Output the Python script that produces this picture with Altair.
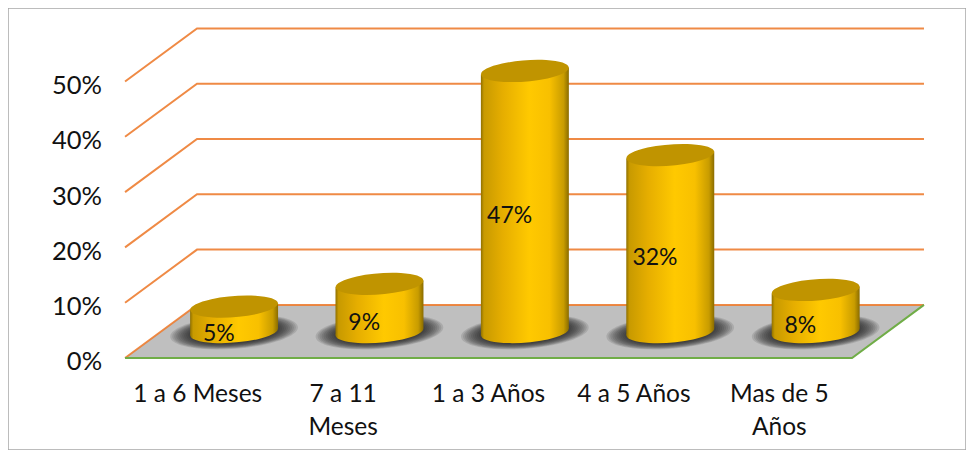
import math
import altair as alt
import pandas as pd

categories = ["1 a 6 Meses", "7 a 11 Meses", "1 a 3 Años", "4 a 5 Años", "Mas de 5 Años"]
axis_lines = [["1 a 6 Meses"], ["7 a 11", "Meses"], ["1 a 3 Años"], ["4 a 5 Años"], ["Mas de 5", "Años"]]
values = [4.6, 8.7, 47.2, 32.0, 7.6]
ticks = [0, 10, 20, 30, 40, 50]

# projection of the 3D box, in data units
DEPTH_X, DEPTH_V = 0.495, 9.6
BASE_V = 4.7
BAR_X = 0.75
HALF_W = 0.3025
TILT_V = 0.62

ORANGE = "#ed7d31"
GREEN = "#70ad47"
FONT = "Lato"


def ellipse(ratio, deg=4.5):
    a = math.radians(deg)
    cx, sy = math.cos(a), math.sin(a)
    return (f"M{-cx:.4f} {sy:.4f} A1 {ratio} {-deg} 1 1 {cx:.4f} {-sy:.4f} "
            f"A1 {ratio} {-deg} 1 1 {-cx:.4f} {sy:.4f} Z")


x_scale = alt.Scale(domain=[-0.805, 5.784], nice=False, zero=False)
y_scale = alt.Scale(domain=[-16.64, 63.29], nice=False, zero=False)
X = alt.X("x:Q", scale=x_scale, axis=None)
Y = alt.Y("y:Q", scale=y_scale, axis=None, stack=None)

gold = alt.Gradient(
    gradient="linear", x1=0, x2=1, y1=0, y2=0,
    stops=[
        alt.GradientStop(color="#8f7000", offset=0),
        alt.GradientStop(color="#c89a00", offset=0.035),
        alt.GradientStop(color="#e6ae00", offset=0.25),
        alt.GradientStop(color="#ffc900", offset=0.55),
        alt.GradientStop(color="#f8c000", offset=0.78),
        alt.GradientStop(color="#c89c00", offset=0.94),
        alt.GradientStop(color="#8a6c00", offset=1),
    ],
)

floor_df = pd.DataFrame({
    "x": [0, DEPTH_X, 5, 5 + DEPTH_X],
    "y": [0, DEPTH_V, DEPTH_V, DEPTH_V],
    "y0": [0, 0, 0, DEPTH_V],
})
floor = alt.Chart(floor_df).mark_area(color="#bfbfbf").encode(X, Y, y2="y0:Q")

# axis labels
x_label_rows = []
for i, lines in enumerate(axis_lines):
    for j, line in enumerate(lines):
        x_label_rows.append({"x": i + 0.5, "y": -6.7 - 5.97 * j, "label": line})
x_labels = alt.Chart(pd.DataFrame(x_label_rows)).mark_text(
    font=FONT, fontSize=24.5, color="#111111", align="center", baseline="middle",
).encode(X, Y, text="label:N")

y_labels = alt.Chart(pd.DataFrame({
    "x": [-0.158] * len(ticks),
    "y": [t - 0.8 for t in ticks],
    "label": [f"{t}%" for t in ticks],
})).mark_text(
    font=FONT, fontSize=25.5, color="#111111", align="right", baseline="middle",
).encode(X, Y, text="label:N")

# gridlines: front diagonal + back wall
grid_rows = []
for t in ticks:
    grid_rows += [
        {"t": t, "o": 0, "x": 0, "y": t},
        {"t": t, "o": 1, "x": DEPTH_X, "y": t + DEPTH_V},
        {"t": t, "o": 2, "x": 5 + DEPTH_X, "y": t + DEPTH_V},
    ]
grid = alt.Chart(pd.DataFrame(grid_rows)).mark_line(
    color=ORANGE, strokeWidth=2, opacity=0.9
).encode(X, Y, detail="t:N", order="o:Q")

edge_df = pd.DataFrame({"x": [0, 5, 5 + DEPTH_X], "y": [0, 0, DEPTH_V]})
edge = alt.Chart(edge_df).mark_line(color=GREEN, strokeWidth=2).encode(X, Y)

layers = [floor, grid, edge, x_labels, y_labels]

centers = pd.DataFrame({
    "x": [i + BAR_X for i in range(5)],
    "cat": categories,
    "top": [BASE_V + v for v in values],
    "base": [BASE_V] * 5,
})

# blurred shadows on the floor, built from stacked translucent ellipses
for rx in range(64, 42, -2):
    layers.append(
        alt.Chart(centers).mark_point(
            shape=ellipse(0.26), filled=True, color="#1a1a1a", opacity=0.12,
            size=(2 * rx) ** 2, strokeWidth=0,
        ).encode(X, y=alt.Y("base:Q", scale=y_scale, axis=None))
    )

# bases
layers.append(
    alt.Chart(centers).mark_point(
        shape=ellipse(0.24), filled=True, fill=gold, opacity=1, size=88 ** 2, strokeWidth=0,
    ).encode(X, y=alt.Y("base:Q", scale=y_scale, axis=None))
)

# bodies
for i, (cat, v) in enumerate(zip(categories, values)):
    body = pd.DataFrame({
        "x": [i + BAR_X - HALF_W, i + BAR_X + HALF_W],
        "y": [BASE_V + v - TILT_V, BASE_V + v + TILT_V],
        "y0": [BASE_V - TILT_V, BASE_V + TILT_V],
    })
    layers.append(alt.Chart(body).mark_area(fill=gold).encode(X, Y, y2="y0:Q"))

# tops
layers.append(
    alt.Chart(centers).mark_point(
        shape=ellipse(0.24), filled=True, color="#c09400", opacity=1, size=88 ** 2, strokeWidth=0,
    ).encode(X, y=alt.Y("top:Q", scale=y_scale, axis=None))
)

# value labels
labels = pd.DataFrame({
    "x": [i + BAR_X - 0.105 for i in range(5)],
    "y": [v * 0.5 + 2 for v in values],
    "label": [f"{round(v)}%" for v in values],
})
layers.append(
    alt.Chart(labels).mark_text(
        font=FONT, fontSize=23, color="#111111", align="center", baseline="middle",
    ).encode(X, Y, text="label:N")
)

chart = alt.layer(*layers).properties(
    width=958, height=442, padding=0, background="white"
).configure_view(stroke="#a6a6a6", strokeWidth=1.5)

chart.save("out.html", embed_options={"renderer": "svg", "actions": False})
